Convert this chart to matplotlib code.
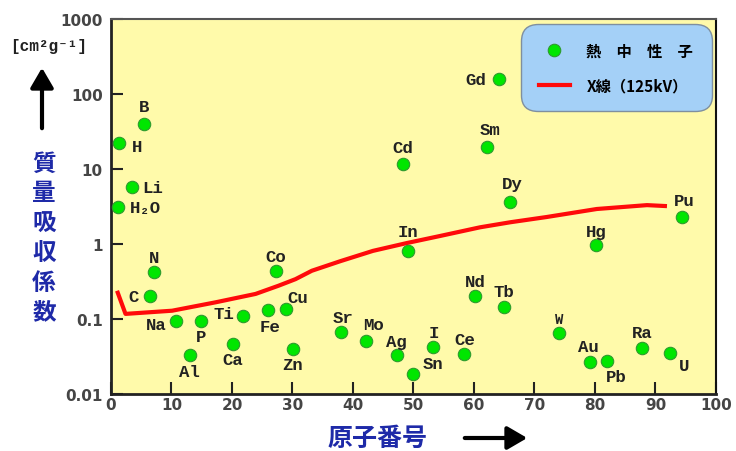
import matplotlib.pyplot as plt
from matplotlib.lines import Line2D
from matplotlib.patches import FancyArrowPatch

plt.rcParams['font.family'] = ['DejaVu Sans']

# 熱中性子 質量吸収係数 (picture readings)
elements = ['H', 'H₂O', 'Li', 'B', 'C', 'N', 'Na', 'Al', 'P', 'Ca', 'Ti', 'Fe', 'Co', 'Cu', 'Zn',
            'Sr', 'Mo', 'Ag', 'Cd', 'In', 'Sn', 'I', 'Ce', 'Nd', 'Sm', 'Gd', 'Tb', 'Dy',
            'W', 'Au', 'Hg', 'Pb', 'Ra', 'U', 'Pu']
atomic_no = [1.4, 1.2, 3.5, 5.4, 6.4, 7.1, 10.8, 13, 14.9, 20.2, 21.9, 26, 27.2, 29, 30.1,
             38.1, 42.2, 47.2, 48.2, 49.1, 49.9, 53.3, 58.4, 60.2, 62.2, 64.2, 65, 66,
             74, 79.2, 80.2, 82, 87.8, 92.4, 94.4]
mu_neutron = [22, 3.1, 5.75, 40, 0.2, 0.42, 0.094, 0.033, 0.094, 0.046, 0.11, 0.132, 0.437, 0.135, 0.04,
              0.067, 0.051, 0.033, 11.6, 0.81, 0.0185, 0.042, 0.034, 0.2, 19.6, 158, 0.145, 3.63,
              0.065, 0.0267, 0.97, 0.0275, 0.041, 0.035, 2.29]

# X線 (125kV)
xray_z = [1.0, 2.4, 10.1, 17.3, 23.9, 27.7, 30.5, 33.2, 37.9, 43.3, 48.9, 54.4, 61.0, 66.0, 72.0, 80.3, 88.6, 91.9]
xray_mu = [0.238, 0.117, 0.129, 0.167, 0.216, 0.278, 0.34, 0.44, 0.59, 0.81, 1.03, 1.28, 1.67, 1.95, 2.29, 2.93, 3.3, 3.2]

x_ticks = [0, 10, 20, 30, 40, 50, 60, 70, 80, 90, 100]
y_ticks = [0.01, 0.1, 1, 10, 100, 1000]
y_tick_labels = ['0.01', '0.1', '1', '10', '100', '1000']

# label offsets in pixels (dx, dy) from marker centre
label_offsets = {
    'H': (18, -3), 'H₂O': (27, 0), 'Li': (20, 0), 'B': (0, 17), 'C': (-16, 0), 'N': (0, 15),
    'Na': (-20, -3), 'Al': (0, -16), 'P': (0, -15), 'Ca': (0, -15), 'Ti': (-20, 2),
    'Fe': (2, -17), 'Co': (0, 14), 'Cu': (11, 12), 'Zn': (0, -16), 'Sr': (2, 15),
    'Mo': (7, 16), 'Ag': (0, 14), 'Cd': (0, 17), 'In': (0, 19), 'Sn': (20, 10),
    'I': (0, 15), 'Ce': (0, 15), 'Nd': (0, 15), 'Sm': (3, 18), 'Gd': (-24, 0),
    'Tb': (0, 15), 'Dy': (2, 19), 'W': (0, 14), 'Au': (-2, 16), 'Hg': (0, 14),
    'Pb': (9, -15), 'Ra': (0, 16), 'U': (14, -12), 'Pu': (2, 17),
}

fig = plt.figure(figsize=(7.36, 4.52), dpi=100)
ax = fig.add_axes([0.1508, 0.1261, 0.822, 0.8296])
ax.set_facecolor('#FFFAAA')

ax.plot(xray_z, xray_mu, color='#FF0A0A', lw=3, solid_capstyle='butt', zorder=2)
ax.scatter(atomic_no, mu_neutron, s=80, c='#00E600', edgecolors='#2E9A2E', linewidths=0.8, zorder=3)

mono = ['Liberation Mono', 'DejaVu Sans Mono']
for name, xv, yv in zip(elements, atomic_no, mu_neutron):
    dx, dy = label_offsets[name]
    ax.annotate(name, (xv, yv), xytext=(dx, dy), textcoords='offset pixels',
                ha='center', va='center', fontsize=10 if name == 'W' else 12.5,
                family=mono, weight='bold', color='#222222', zorder=4)

ax.set_yscale('log')
ax.set_xlim(0, 100)
ax.set_ylim(0.01, 1000)
ax.set_xticks(x_ticks)
ax.set_xticklabels([str(t) for t in x_ticks])
ax.set_yticks(y_ticks)
ax.set_yticklabels(y_tick_labels)
ax.minorticks_off()
ax.tick_params(direction='in', length=8.5, width=1.5, color='#222222',
               labelsize=11, labelcolor='#454545')
ax.tick_params(axis='x', pad=2)
ax.tick_params(axis='y', pad=6)
for lbl in ax.get_xticklabels() + ax.get_yticklabels():
    lbl.set_fontweight('bold')

for side in ['left', 'bottom']:
    ax.spines[side].set_linewidth(2)
    ax.spines[side].set_color('#222222')
ax.spines['top'].set_linewidth(1.5)
ax.spines['top'].set_color('#555555')
ax.spines['right'].set_linewidth(1.5)
ax.spines['right'].set_color('#111111')

# legend
handles = [
    Line2D([], [], ls='none', marker='o', ms=9, mfc='#00E600', mec='#2E9A2E', mew=0.8),
    Line2D([], [], color='#FF0A0A', lw=3),
]
leg = ax.legend(handles, ['熱\u3000中\u3000性\u3000子', 'X線（125kV）'],
                loc='upper right', bbox_to_anchor=(707 / 736, 1 - 30 / 452),
                bbox_transform=fig.transFigure, borderaxespad=0,
                prop={'family': ['Noto Sans CJK JP', 'DejaVu Sans'], 'weight': 'bold', 'size': 11},
                handlelength=2.0, handletextpad=1.1, labelspacing=1.2, borderpad=0.9,
                frameon=True, fancybox=True, facecolor='#A4D0F7', edgecolor='#7F8F9F', framealpha=1)
leg.get_frame().set_boxstyle('round', pad=0.3, rounding_size=1.1)
leg.get_frame().set_linewidth(1.0)

cjk = ['Noto Sans CJK JP', 'DejaVu Sans']
fig.text(44 / 736, 1 - 238 / 452, '\n'.join('質量吸収係数'), ha='center', va='center',
         family=cjk, fontsize=17, weight='bold', color='#1E2AA8', linespacing=1.3)
fig.text(378 / 736, 1 - 439 / 452, '原子番号', ha='center', va='center',
         family=cjk, fontsize=18, weight='bold', color='#1E2AA8')
fig.text(49 / 736, 1 - 46 / 452, '[cm²g⁻¹]', ha='center', va='center',
         family=mono, fontsize=11.5, weight='bold', color='#222222')

fig.patches.append(FancyArrowPatch(
    (42 / 736, 1 - 132 / 452), (42 / 736, 1 - 66 / 452), transform=fig.transFigure,
    arrowstyle='-|>,head_length=6,head_width=3.5', lw=3, color='black', mutation_scale=2))
fig.patches.append(FancyArrowPatch(
    (462 / 736, 1 - 439 / 452), (530 / 736, 1 - 439 / 452), transform=fig.transFigure,
    arrowstyle='-|>,head_length=6,head_width=3.5', lw=3, color='black', mutation_scale=2))

fig.savefig('out.png', dpi=100)
